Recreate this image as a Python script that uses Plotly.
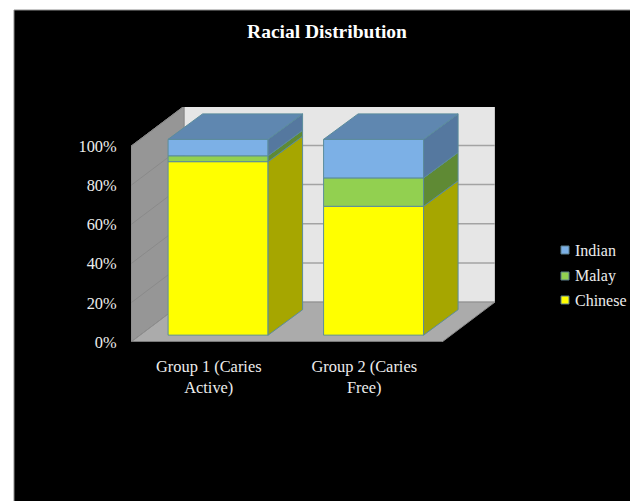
import plotly.graph_objects as go

categories = ["Group 1 (Caries<br>Active)", "Group 2 (Caries<br>Free)"]
series_names = ["Chinese", "Malay", "Indian"]
chinese = [88.6, 65.8]
malay = [3.0, 14.5]
indian = [8.4, 19.7]
y_ticks = [0, 20, 40, 60, 80, 100]
y_labels = ["0%", "20%", "40%", "60%", "80%", "100%"]
title_text = "Racial Distribution"

front = ["#FFFF00", "#92D050", "#7CB0E6"]
side = ["#A6A600", "#5F8A34", "#55789F"]
top_col = "#5F87B0"
edge = "#5B8C9C"
text_col = "#EDEDED"
font_name = "Liberation Serif"

# Chart scale: 155.5 px per category, 1.958 px per percent
W_DX, W_DY = 0.341, 20.4      # wall depth
B_X, B_Y = 0.06, 3.5          # bar set back from the floor's front edge
B_DX, B_DY = 0.222, 13.0      # bar depth
BAR_W = 0.643

fig = go.Figure()
values = [chinese, malay, indian]
centres = [i + 0.5 + B_X for i in range(len(categories))]

# front faces
cum = [B_Y for _ in categories]
segments = []
for name, vals, col in zip(series_names, values, front):
    fig.add_bar(x=centres, y=vals, base=list(cum), width=BAR_W, name=name, showlegend=False,
                marker=dict(color=col, line=dict(color=edge, width=1)))
    segments.append([(c, c + v) for c, v in zip(cum, vals)])
    cum = [c + v for c, v in zip(cum, vals)]

# side faces and top face
for s, col in zip(segments, side):
    for cx, (y0, y1) in zip(centres, s):
        xr = cx + BAR_W / 2
        fig.add_scatter(x=[xr, xr, xr + B_DX, xr + B_DX, xr],
                        y=[y0, y1, y1 + B_DY, y0 + B_DY, y0],
                        mode="lines", fill="toself", fillcolor=col,
                        line=dict(color=edge, width=1), showlegend=False, hoverinfo="skip")
for cx, yt in zip(centres, cum):
    xl, xr = cx - BAR_W / 2, cx + BAR_W / 2
    fig.add_scatter(x=[xl, xr, xr + B_DX, xl + B_DX, xl],
                    y=[yt, yt, yt + B_DY, yt + B_DY, yt],
                    mode="lines", fill="toself", fillcolor=top_col,
                    line=dict(color=edge, width=1), showlegend=False, hoverinfo="skip")

n = len(categories)
PW, PH = 364, 235
px_x = lambda p: (p - 131) / PW
px_y = lambda p: (342 - p) / PH
shapes = [
    # black panel
    dict(type="rect", xref="paper", yref="paper", layer="below",
         x0=px_x(14), x1=px_x(640), y0=px_y(510), y1=px_y(10),
         fillcolor="#000000", line=dict(color="#8C8C8C", width=1)),
    # back wall
    dict(type="path", layer="below", xref="x", yref="y",
         path=f"M{W_DX},{W_DY} L{n + W_DX},{W_DY} L{n + W_DX},{100 + W_DY} L{W_DX},{100 + W_DY} Z",
         fillcolor="#E6E6E6", line=dict(color="#A6A6A6", width=1)),
    # left wall
    dict(type="path", layer="below", xref="x", yref="y",
         path=f"M0,0 L{W_DX},{W_DY} L{W_DX},{100 + W_DY} L0,100 Z",
         fillcolor="#969696", line=dict(color="#8A8A8A", width=1)),
    # floor
    dict(type="path", layer="below", xref="x", yref="y",
         path=f"M0,0 L{W_DX},{W_DY} L{n + W_DX},{W_DY} L{n},0 Z",
         fillcolor="#ABABAB", line=dict(color="#8C8C8C", width=1)),
    dict(type="line", layer="below", xref="x", yref="y", x0=0, x1=n, y0=0, y1=0,
         line=dict(color="#6E6E6E", width=1.5)),
]
for t in y_ticks[1:-1] + [100]:
    if t < 100:
        shapes.append(dict(type="line", layer="below", xref="x", yref="y",
                           x0=W_DX, x1=n + W_DX, y0=t + W_DY, y1=t + W_DY,
                           line=dict(color="#A3A3A3", width=1.5)))
    shapes.append(dict(type="line", layer="below", xref="x", yref="y",
                       x0=0, x1=W_DX, y0=t, y1=t + W_DY,
                       line=dict(color="#8A8A8A", width=1)))

# legend, top row first
annotations = []
for row_y, name, col in zip([300, 276, 250], series_names, front):
    shapes.append(dict(type="rect", xref="paper", yref="paper",
                       x0=px_x(561), x1=px_x(569), y0=px_y(row_y + 4), y1=px_y(row_y - 4),
                       fillcolor=col, line=dict(color="#5B7F8C", width=1)))
    annotations.append(dict(xref="paper", yref="paper", x=px_x(573), y=px_y(row_y),
                            xanchor="left", yanchor="middle", showarrow=False, text=name,
                            font=dict(size=16, color=text_col, family=font_name)))

fig.update_layout(
    width=630, height=501,
    margin=dict(l=131, r=135, t=107, b=159, autoexpand=False),
    paper_bgcolor="#FFFFFF", plot_bgcolor="rgba(0,0,0,0)",
    barmode="overlay", shapes=shapes, annotations=annotations, showlegend=False,
    font=dict(family=font_name, color=text_col, size=16.4),
    title=dict(text=f"<b>{title_text}</b>", x=327 / 630, xref="container", xanchor="center",
               y=1 - 31 / 501, yref="container", yanchor="middle",
               font=dict(size=19.5, color="#FFFFFF", family=font_name)),
    xaxis=dict(range=[0, PW / 155.5], showgrid=False, zeroline=False, showline=False,
               tickmode="array", tickvals=[i + 0.5 for i in range(n)], ticktext=categories,
               ticks="outside", ticklen=9, tickcolor="rgba(0,0,0,0)", tickangle=0),
    yaxis=dict(range=[0, PH / 1.958], showgrid=False, zeroline=False, showline=False,
               tickmode="array", tickvals=y_ticks, ticktext=y_labels,
               ticks="outside", ticklen=10, tickcolor="rgba(0,0,0,0)"),
)
fig.write_html("out.html", post_script="document.body.style.margin='0';document.body.style.overflow='hidden';",
               config={"displayModeBar": False})
